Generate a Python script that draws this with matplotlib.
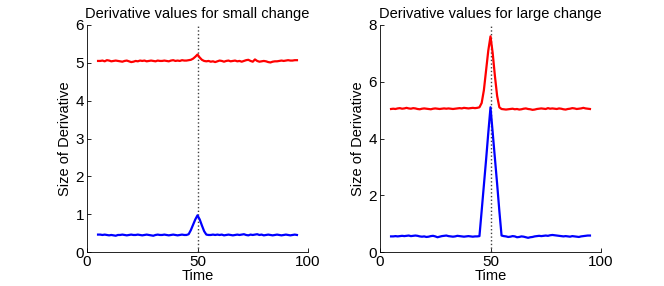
import numpy as np
import matplotlib
matplotlib.use('Agg')
import matplotlib.pyplot as plt

plt.rcParams['font.family'] = ['Liberation Sans', 'DejaVu Sans']

time = list(range(5, 96))

small_red = [
    5.05, 5.05, 5.06, 5.04, 5.07, 5.06, 5.04, 5.05, 5.06, 5.05,
    5.04, 5.03, 5.05, 5.06, 5.04, 5.02, 5.03, 5.05, 5.04, 5.06,
    5.05, 5.06, 5.04, 5.05, 5.06, 5.05, 5.04, 5.06, 5.05, 5.05,
    5.06, 5.05, 5.04, 5.06, 5.07, 5.05, 5.06, 5.05, 5.07, 5.06,
    5.06, 5.07, 5.08, 5.11, 5.16, 5.22, 5.14, 5.08, 5.05, 5.04,
    5.05, 5.03, 5.04, 5.02, 5.04, 5.06, 5.05, 5.03, 5.05, 5.06,
    5.04, 5.05, 5.06, 5.04, 5.05, 5.03, 5.05, 5.07, 5.08, 5.05,
    5.03, 5.09, 5.05, 5.03, 5.04, 5.05, 5.04, 5.02, 5.01, 5.03,
    5.04, 5.04, 5.05, 5.06, 5.05, 5.06, 5.07, 5.06, 5.06, 5.07,
    5.07,
]
small_blue = [
    0.46, 0.46, 0.45, 0.46, 0.45, 0.44, 0.45, 0.44, 0.43, 0.45,
    0.45, 0.46, 0.45, 0.44, 0.45, 0.46, 0.45, 0.45, 0.46, 0.45,
    0.44, 0.45, 0.46, 0.45, 0.44, 0.43, 0.45, 0.46, 0.45, 0.45,
    0.46, 0.45, 0.44, 0.45, 0.46, 0.45, 0.44, 0.45, 0.46, 0.45,
    0.45, 0.47, 0.58, 0.72, 0.86, 0.97, 0.86, 0.70, 0.55, 0.46,
    0.45, 0.45, 0.46, 0.45, 0.46, 0.45, 0.46, 0.44, 0.45, 0.46,
    0.45, 0.44, 0.45, 0.46, 0.45, 0.46, 0.47, 0.45, 0.44, 0.46,
    0.45, 0.46, 0.47, 0.45, 0.46, 0.44, 0.45, 0.46, 0.45, 0.44,
    0.45, 0.46, 0.45, 0.44, 0.45, 0.46, 0.45, 0.44, 0.45, 0.46,
    0.45,
]
large_red = [
    5.04, 5.05, 5.04, 5.06, 5.07, 5.05, 5.06, 5.08, 5.06, 5.05,
    5.07, 5.06, 5.04, 5.03, 5.05, 5.06, 5.05, 5.04, 5.03, 5.05,
    5.06, 5.05, 5.04, 5.05, 5.06, 5.05, 5.06, 5.05, 5.04, 5.05,
    5.06, 5.07, 5.06, 5.08, 5.07, 5.06, 5.07, 5.08, 5.07, 5.08,
    5.10, 5.25, 5.70, 6.40, 7.10, 7.60, 7.00, 6.20, 5.50, 5.10,
    5.04, 5.03, 5.02, 5.03, 5.04, 5.05, 5.03, 5.04, 5.02, 5.03,
    5.05, 5.06, 5.04, 5.03, 5.01, 5.02, 5.04, 5.05, 5.06, 5.05,
    5.04, 5.07, 5.05, 5.06, 5.05, 5.04, 5.06, 5.05, 5.03, 5.02,
    5.04, 5.05, 5.07, 5.06, 5.04, 5.05, 5.06, 5.08, 5.06, 5.05,
    5.04,
]
large_blue = [
    0.55, 0.55, 0.56, 0.55, 0.56, 0.57, 0.56, 0.57, 0.58, 0.56,
    0.57, 0.58, 0.57, 0.55, 0.54, 0.55, 0.53, 0.54, 0.56, 0.57,
    0.55, 0.52, 0.54, 0.56, 0.57, 0.58, 0.56, 0.55, 0.54, 0.55,
    0.57, 0.56, 0.55, 0.54, 0.55, 0.56, 0.55, 0.54, 0.55, 0.55,
    0.56, 1.45, 2.35, 3.25, 4.20, 5.10, 4.20, 3.30, 2.40, 1.45,
    0.58, 0.56, 0.55, 0.53, 0.54, 0.56, 0.55, 0.52, 0.53, 0.55,
    0.54, 0.52, 0.50, 0.52, 0.53, 0.55, 0.56, 0.57, 0.56, 0.57,
    0.58, 0.57, 0.59, 0.60, 0.59, 0.58, 0.57, 0.56, 0.55, 0.56,
    0.55, 0.54, 0.56, 0.55, 0.54, 0.53, 0.55, 0.56, 0.57, 0.58,
    0.58,
]

panels = [
    ('Derivative values for small change', small_red, small_blue, 6, [0, 1, 2, 3, 4, 5, 6]),
    ('Derivative values for large change', large_red, large_blue, 8, [0, 2, 4, 6, 8]),
]
change_time = 50

fig = plt.figure(figsize=(6.64, 2.86), dpi=100)
lefts = [87 / 664, 380 / 664]

for left, (title, red, blue, ymax, yticks) in zip(lefts, panels):
    ax = fig.add_axes([left, 34 / 286, 221 / 664, 227 / 286])
    ax.axvline(change_time, color='#404040', linestyle=':', linewidth=1.0)
    ax.plot(time, red, color='#ff0000', linewidth=1.6)
    ax.plot(time, blue, color='#0000ff', linewidth=1.6)
    ax.set_xlim(0, 100)
    ax.set_ylim(0, ymax)
    ax.set_xticks([0, 50, 100])
    ax.set_yticks(yticks)
    ax.spines['top'].set_visible(False)
    ax.spines['right'].set_visible(False)
    ax.tick_params(direction='in', length=3, width=0.6, labelsize=11, pad=2)
    for s in ('left', 'bottom'):
        ax.spines[s].set_linewidth(0.6)
    ax.set_title(title, fontsize=10.5, pad=5)
    ax.set_xlabel('Time', fontsize=10.5, labelpad=0)
    ax.set_ylabel('Size of Derivative', fontsize=10.5, labelpad=3)

fig.savefig('out.png', dpi=100)
